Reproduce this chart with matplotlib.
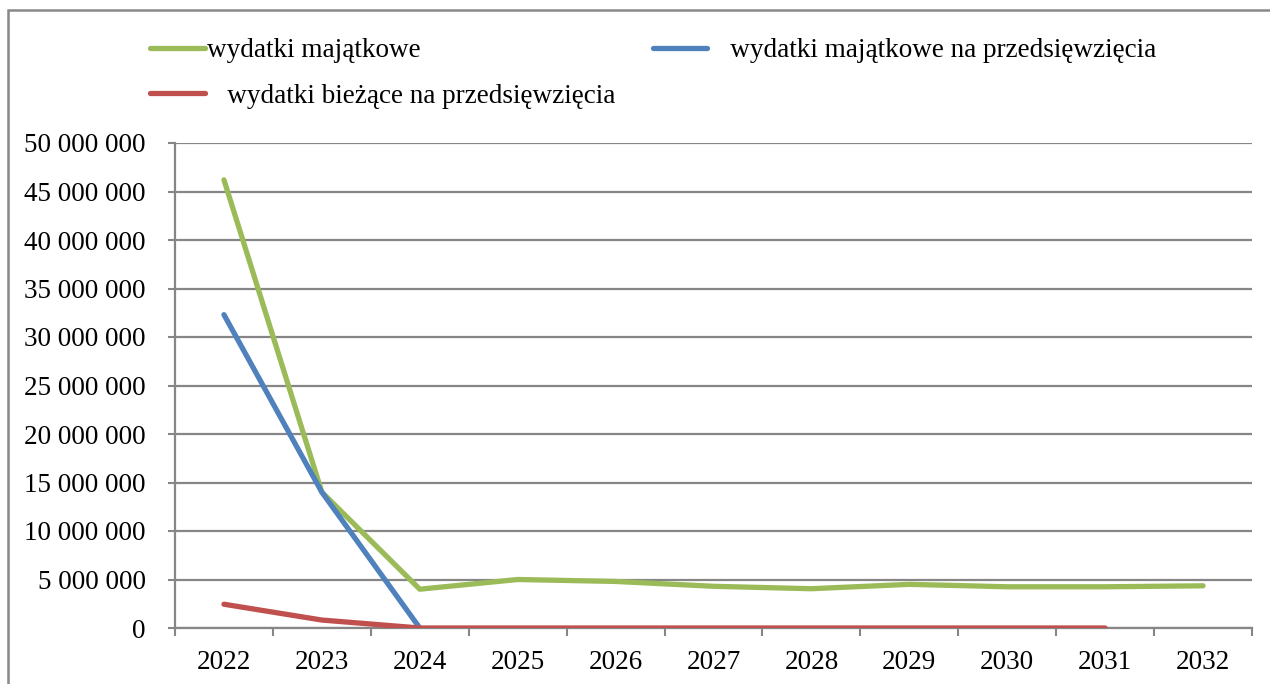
import matplotlib
matplotlib.use('Agg')
import matplotlib.pyplot as plt
from matplotlib.patches import Rectangle
from matplotlib.ticker import FuncFormatter, MultipleLocator
import numpy as np

years = ['2022', '2023', '2024', '2025', '2026', '2027',
         '2028', '2029', '2030', '2031', '2032']
# values (PLN)
wydatki_majatkowe = [46_200_000, 14_000_000, 4_000_000, 5_000_000, 4_800_000,
                     4_300_000, 4_050_000, 4_500_000, 4_250_000, 4_250_000, 4_350_000]
wydatki_maj_przedsiewziecia = [32_300_000, 14_000_000, 0]
wydatki_biezace_przedsiewziecia = [2_450_000, 820_000, 0, 0, 0, 0, 0, 0, 0, 0]

GREEN = '#9bbb59'
BLUE = '#4f81bd'
RED = '#c0504d'
GRID = '#868686'
FS = 19.5

plt.rcParams['font.family'] = ['Liberation Serif', 'DejaVu Serif']

fig = plt.figure(figsize=(12.70, 6.84), dpi=100)
ax = fig.add_axes([175 / 1270, 1 - 628 / 684, (1252 - 175) / 1270, (628 - 143) / 684])

x = np.arange(len(years))
lw = 3.8
l_green, = ax.plot(x, wydatki_majatkowe, color=GREEN, lw=lw,
                   solid_capstyle='round', solid_joinstyle='round', zorder=3)
l_blue, = ax.plot(x[:len(wydatki_maj_przedsiewziecia)], wydatki_maj_przedsiewziecia,
                  color=BLUE, lw=lw, solid_capstyle='round', solid_joinstyle='round', zorder=3)
l_red, = ax.plot(x[:len(wydatki_biezace_przedsiewziecia)], wydatki_biezace_przedsiewziecia,
                 color=RED, lw=lw, solid_capstyle='round', solid_joinstyle='round', zorder=4)

ax.set_xlim(-0.5, len(years) - 0.5)
ax.set_ylim(0, 50_000_000)
ax.yaxis.set_major_locator(MultipleLocator(5_000_000))
ax.yaxis.set_major_formatter(FuncFormatter(lambda v, p: f'{int(v):,}'.replace(',', ' ')))
ax.grid(axis='y', color=GRID, lw=1.6)
ax.set_axisbelow(True)

# category boundaries as ticks, labels in the middle
ax.set_xticks(np.arange(-0.5, len(years)), minor=False)
ax.set_xticklabels([])
ax.set_xticks(x, minor=True)
ax.set_xticklabels(years, minor=True)
ax.tick_params(axis='x', which='minor', length=0, pad=16, labelsize=FS)
ax.tick_params(axis='x', which='major', length=6, width=1.5, color=GRID)
ax.tick_params(axis='y', length=5, width=1.5, color=GRID, labelsize=FS, pad=16)

for s in ['top', 'right']:
    ax.spines[s].set_visible(False)
for s in ['left', 'bottom']:
    ax.spines[s].set_color(GRID)
    ax.spines[s].set_linewidth(1.6)

leg = fig.legend([l_green, l_red, l_blue],
                 ['wydatki majątkowe', '   wydatki bieżące na przedsięwzięcia',
                  '   wydatki majątkowe na przedsięwzięcia'],
                 ncol=2, loc='upper left', bbox_to_anchor=(126 / 1270, 1 - 14 / 684),
                 frameon=False, fontsize=FS, handlelength=2.0, handletextpad=0.1,
                 columnspacing=1.38, labelspacing=0.75)

fig.patches.append(Rectangle((8 / 1270, -0.1), 1.2, 1 - 10 / 684 + 0.1,
                             transform=fig.transFigure, fill=False,
                             edgecolor='#888888', lw=1.8))

fig.savefig('out.png', dpi=100)
